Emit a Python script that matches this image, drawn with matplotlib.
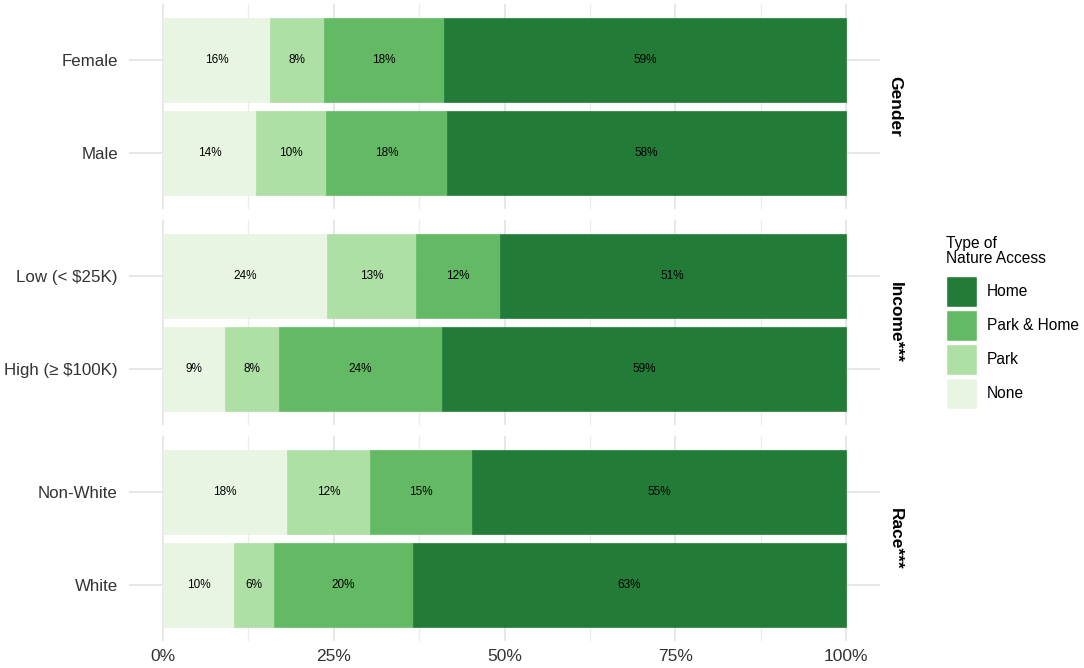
import matplotlib
matplotlib.use("Agg")
import matplotlib.pyplot as plt
from matplotlib.patches import Rectangle
import numpy as np

plt.rcParams['font.family'] = ['Liberation Sans', 'DejaVu Sans']

# groups (facets) and the two categories shown in each
groups = ['Gender', 'Income***', 'Race***']
categories = [['Female', 'Male'],
              ['Low (< $25K)', 'High (\u2265 $100K)'],
              ['Non-White', 'White']]

# share of each access type, in percent, stacked left to right
none_pct = [[15.6, 13.6], [24.0, 9.1], [18.2, 10.4]]
park_pct = [[7.9, 10.2], [13.1, 7.9], [12.1, 5.8]]
park_home_pct = [[17.7, 17.8], [12.2, 23.8], [15.0, 20.4]]
home_pct = [[58.8, 58.4], [50.7, 59.2], [54.7, 63.4]]

access_types = ['None', 'Park', 'Park & Home', 'Home']
colors = ['#e9f5e3', '#aedfa5', '#64ba64', '#227c38']

W, H = 1084, 668
fig = plt.figure(figsize=(W / 100, H / 100), dpi=100)

panel_left, panel_right = 129, 880
panel_tops = [4, 220, 436]
panel_h = 205

for g in range(3):
    top = panel_tops[g]
    ax = fig.add_axes([panel_left / W, 1 - (top + panel_h) / H,
                       (panel_right - panel_left) / W, panel_h / H])
    ax.set_xlim(-5, 105)
    ax.set_ylim(1.6, -0.6)
    for s in ax.spines.values():
        s.set_visible(False)

    # grid like theme_minimal
    for v in [0, 25, 50, 75, 100]:
        ax.axvline(v, color='#e5e5e5', lw=1.3, zorder=0)
    for v in [12.5, 37.5, 62.5, 87.5]:
        ax.axvline(v, color='#ececec', lw=0.9, zorder=0)
    for y in [0, 1]:
        ax.axhline(y, color='#e5e5e5', lw=1.3, zorder=0)

    series = [none_pct[g], park_pct[g], park_home_pct[g], home_pct[g]]
    ypos = np.arange(2)
    left = np.zeros(2)
    for k in range(4):
        vals = np.array(series[k])
        ax.barh(ypos, vals, left=left, height=0.9, color=colors[k],
                edgecolor=colors[k], linewidth=0.5, zorder=2)
        for i in range(2):
            ax.text(left[i] + vals[i] / 2, ypos[i], f"{vals[i]:.0f}%",
                    ha='center', va='center', fontsize=8.5, color='black', zorder=3)
        left = left + vals

    ax.set_yticks(ypos)
    ax.set_yticklabels(categories[g], fontsize=12.2, color='#333333')
    ax.tick_params(axis='both', length=0, pad=8)
    ax.set_xticks([0, 25, 50, 75, 100])
    if g == 2:
        ax.set_xticklabels(['0%', '25%', '50%', '75%', '100%'], fontsize=12.5, color='#333333')
        ax.tick_params(axis='x', pad=6)
    else:
        ax.set_xticklabels([])

    fig.text(895 / W, 1 - (top + panel_h / 2) / H, groups[g], rotation=-90,
             ha='center', va='center', fontsize=12.5, fontweight='bold', color='black')

# legend drawn by hand in pixel space
lax = fig.add_axes([0, 0, 1, 1], facecolor='none')
lax.set_xlim(0, W)
lax.set_ylim(H, 0)
lax.axis('off')
lax.text(946, 251, 'Type of\nNature Access', ha='left', va='center',
         fontsize=11.2, color='black', linespacing=1.0)
for j, k in enumerate([3, 2, 1, 0]):
    y0 = 276 + j * 34
    lax.add_patch(Rectangle((946, y0), 31, 31, facecolor=colors[k], edgecolor='white', lw=1))
    lax.text(987, y0 + 15.5, access_types[k], ha='left', va='center',
             fontsize=11.2, color='black')

fig.savefig('out.png', dpi=100)
